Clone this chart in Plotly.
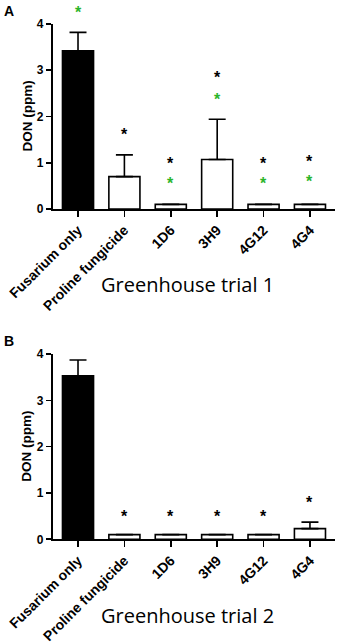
import plotly.graph_objects as go

W, H = 340, 643

categories = ["Fusarium only", "Proline fungicide", "1D6", "3H9", "4G12", "4G4"]

# Panel A: Greenhouse trial 1
don_a = [3.42, 0.70, 0.10, 1.07, 0.10, 0.10]
err_a = [0.40, 0.47, 0.0, 0.87, 0.0, 0.0]
black_star_a = [None, 1.69, 1.06, 2.92, 1.06, 1.12]
green_star_a = [4.34, None, 0.63, 2.46, 0.63, 0.69]

# Panel B: Greenhouse trial 2
don_b = [3.53, 0.10, 0.10, 0.10, 0.10, 0.23]
err_b = [0.34, 0.0, 0.0, 0.0, 0.0, 0.14]
black_star_b = [None, 0.58, 0.58, 0.58, 0.58, 0.87]

y_ticks = [0, 1, 2, 3, 4]
y_max = 4
titles = ["Greenhouse trial 1", "Greenhouse trial 2"]
panel_letters = ["A", "B"]

BOLD = "Liberation Sans"
GREEN = "#2bb52b"

def px_x(x):
    return x / W

def px_y(y):
    return 1 - y / H

xs = list(range(len(categories)))
fills = ["black"] + ["white"] * (len(categories) - 1)

fig = go.Figure()

panels = [
    dict(don=don_a, err=err_a, stars=[(black_star_a, "black"), (green_star_a, GREEN)],
         top=24, bottom=209, xa="x", ya="y"),
    dict(don=don_b, err=err_b, stars=[(black_star_b, "black")],
         top=354, bottom=539.3, xa="x2", ya="y2"),
]

annotations = []
for i, p in enumerate(panels):
    fig.add_trace(go.Bar(
        x=xs, y=p["don"], width=0.67,
        marker=dict(color=fills, line=dict(color="black", width=1.6)),
        error_y=dict(type="data", symmetric=False, array=p["err"],
                     arrayminus=[0] * len(xs), color="black", thickness=1.6, width=8.5),
        xaxis=p["xa"], yaxis=p["ya"], showlegend=False, hoverinfo="skip",
    ))
    for vals, col in p["stars"]:
        for x, v in zip(xs, vals):
            if v is None:
                continue
            # y in axis-domain units (value / axis max) so stars above the range stay visible
            annotations.append(dict(
                text="<b>*</b>", x=x, y=v / y_max, xref=p["xa"], yref=p["ya"] + " domain",
                showarrow=False, xanchor="center", yanchor="middle", yshift=-4,
                font=dict(family=BOLD, size=16, color=col),
            ))

common_x = dict(
    range=[-0.55, 5.54], tickvals=xs, ticktext=["<b>%s</b>" % c for c in categories],
    tickangle=-45, automargin=False,
    showline=True, linecolor="black", linewidth=1.6, ticks="outside",
    ticklen=6, tickwidth=1.6, tickcolor="black", showgrid=False, zeroline=False,
    tickfont=dict(family=BOLD, size=14, color="black"),
    domain=[px_x(52.5), px_x(335)], fixedrange=True,
)
common_y = dict(
    range=[0, y_max], tickvals=y_ticks, ticktext=["<b>%d</b>" % t for t in y_ticks],
    showline=True, linecolor="black", linewidth=1.6, automargin=False,
    ticks="outside", ticklen=5, tickwidth=1.6, tickcolor="black", showgrid=False,
    zeroline=False, tickfont=dict(family=BOLD, size=12, color="black"),
    fixedrange=True,
)

fig.update_layout(
    width=W, height=H, margin=dict(l=0, r=0, t=0, b=0),
    paper_bgcolor="white", plot_bgcolor="white", bargap=0,
    xaxis=dict(common_x, anchor="y"),
    yaxis=dict(common_y, domain=[px_y(209), px_y(24)], anchor="x"),
    xaxis2=dict(common_x, anchor="y2"),
    yaxis2=dict(common_y, domain=[px_y(539.3), px_y(354)], anchor="x2"),
)

for i, p in enumerate(panels):
    mid = (p["top"] + p["bottom"]) / 2
    annotations.append(dict(
        text="<b>DON (ppm)</b>", x=px_x(27), y=px_y(mid), xref="paper", yref="paper",
        textangle=-90, showarrow=False, xanchor="center", yanchor="middle",
        font=dict(family=BOLD, size=13.5, color="black"),
    ))
    annotations.append(dict(
        text="<b>%s</b>" % panel_letters[i], x=px_x(2), y=px_y(p["top"] - 13),
        xref="paper", yref="paper", showarrow=False, xanchor="left", yanchor="middle",
        font=dict(family=BOLD, size=14, color="black"),
    ))
    annotations.append(dict(
        text=titles[i], x=px_x(187), y=px_y(p["bottom"] + 76), xref="paper", yref="paper",
        showarrow=False, xanchor="center", yanchor="middle",
        font=dict(family="Open Sans", size=20, color="black"),
    ))
fig.update_layout(annotations=annotations)

fig.write_html(
    "out.html",
    config={"displayModeBar": False, "staticPlot": True},
    post_script="document.body.style.margin='0';document.body.style.overflow='hidden';",
)
